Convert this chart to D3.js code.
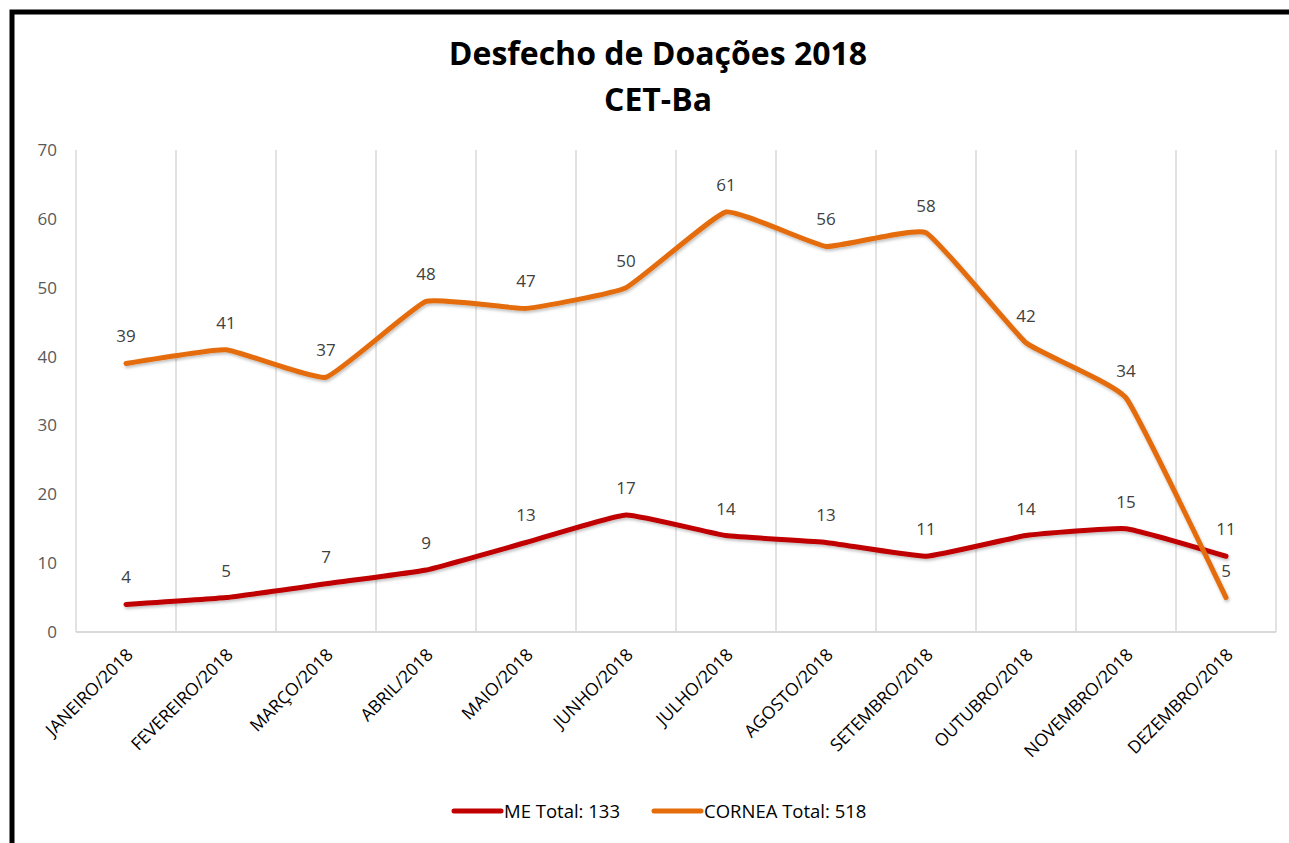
<!DOCTYPE html>
<html>
<head>
<meta charset="utf-8">
<script src="https://cdn.jsdelivr.net/npm/d3@7"></script>
<style>
  body { margin: 0; background: #fff; }
  svg { display: block; }
</style>
</head>
<body>
<div id="chart"></div>
<script>
var months = ['JANEIRO/2018', 'FEVEREIRO/2018', 'MARÇO/2018', 'ABRIL/2018', 'MAIO/2018', 'JUNHO/2018',
  'JULHO/2018', 'AGOSTO/2018', 'SETEMBRO/2018', 'OUTUBRO/2018', 'NOVEMBRO/2018', 'DEZEMBRO/2018'];
var meValues = [4, 5, 7, 9, 13, 17, 14, 13, 11, 14, 15, 11];
var corneaValues = [39, 41, 37, 48, 47, 50, 61, 56, 58, 42, 34, 5];
var seriesNames = ['ME Total: 133', 'CORNEA Total: 518'];
var yTicks = [0, 10, 20, 30, 40, 50, 60, 70];

var W = 1289, H = 843;
var font = '"Open Sans", Lato, sans-serif';

var svg = d3.select('#chart')
    .append('svg')
    .attr('width', W)
    .attr('height', H);

var defs = svg.append('defs');
var shadow = defs.append('filter').attr('id', 'shadow')
    .attr('x', '-5%').attr('y', '-20%').attr('width', '110%').attr('height', '140%');
shadow.append('feDropShadow')
    .attr('dx', 1).attr('dy', 2).attr('stdDeviation', 1.5)
    .attr('flood-color', '#000').attr('flood-opacity', 0.25);

// outer frame (runs off the right/bottom edge like the original)
svg.append('rect')
    .attr('x', 12).attr('y', 12)
    .attr('width', 1320).attr('height', 900)
    .style('fill', 'none')
    .style('stroke', '#000')
    .style('stroke-width', 5);

// title
svg.append('text')
    .attr('x', 658).attr('y', 65)
    .attr('text-anchor', 'middle')
    .style('font-family', font).style('font-weight', 'bold').style('font-size', '32px')
    .text('Desfecho de Doações 2018');
svg.append('text')
    .attr('x', 658).attr('y', 111)
    .attr('text-anchor', 'middle')
    .style('font-family', font).style('font-weight', 'bold').style('font-size', '32px')
    .text('CET-Ba');

var plotLeft = 76, plotRight = 1276, plotTop = 150, plotBottom = 632;

var x = d3.scaleBand().domain(months).range([plotLeft, plotRight]);
var y = d3.scaleLinear().domain([0, 70]).range([plotBottom, plotTop]);

// vertical gridlines at category boundaries
var bounds = months.map(function (m) { return x(m); }).concat([plotRight]);
svg.append('g').selectAll('line')
    .data(bounds)
    .enter().append('line')
    .attr('x1', function (d) { return d; })
    .attr('x2', function (d) { return d; })
    .attr('y1', plotTop).attr('y2', plotBottom)
    .style('stroke', '#d9d9d9')
    .style('stroke-width', 1.5);

// baseline
svg.append('line')
    .attr('x1', plotLeft).attr('x2', plotRight)
    .attr('y1', plotBottom).attr('y2', plotBottom)
    .style('stroke', '#d9d9d9')
    .style('stroke-width', 2);

// y axis labels
var yAxis = svg.append('g')
    .attr('transform', 'translate(' + (plotLeft - 19) + ',0)')
    .call(d3.axisLeft(y).tickValues(yTicks).tickSize(0).tickPadding(0));
yAxis.select('.domain').remove();
yAxis.selectAll('text')
    .style('font-family', font).style('font-size', '17px').style('fill', '#595959');

// x axis labels
var xAxis = svg.append('g')
    .attr('transform', 'translate(0,' + plotBottom + ')')
    .call(d3.axisBottom(x).tickSize(0).tickPadding(0));
xAxis.select('.domain').remove();
xAxis.selectAll('text')
    .attr('y', 0)
    .attr('dy', 0)
    .attr('text-anchor', 'end')
    .attr('transform', 'translate(8,24) rotate(-45)')
    .style('font-family', font).style('font-size', '17.5px').style('fill', '#000');

var series = [
    { name: seriesNames[0], values: meValues, color: '#c00000' },
    { name: seriesNames[1], values: corneaValues, color: '#e46c0a' }
];

var line = d3.line()
    .x(function (d, i) { return x(months[i]) + x.bandwidth() / 2; })
    .y(function (d) { return y(d); })
    .curve(d3.curveCardinal.tension(0.65));

series.forEach(function (s) {
    svg.append('path')
        .datum(s.values)
        .attr('d', line)
        .attr('filter', 'url(#shadow)')
        .style('fill', 'none')
        .style('stroke', s.color)
        .style('stroke-width', 5)
        .style('stroke-linecap', 'round')
        .style('stroke-linejoin', 'round');
});

// data labels
series.forEach(function (s) {
    svg.append('g').selectAll('text')
        .data(s.values)
        .enter().append('text')
        .attr('x', function (d, i) { return x(months[i]) + x.bandwidth() / 2; })
        .attr('y', function (d) { return y(d) - 21; })
        .attr('text-anchor', 'middle')
        .style('font-family', font).style('font-size', '17px').style('fill', '#404040')
        .text(function (d) { return d; });
});

// legend
var legendPos = [453, 653];
var legend = svg.append('g').selectAll('g')
    .data(series)
    .enter().append('g')
    .attr('transform', function (d, i) { return 'translate(' + legendPos[i] + ',811)'; });
legend.append('line')
    .attr('x1', 1).attr('x2', 48)
    .attr('y1', 0).attr('y2', 0)
    .style('stroke', function (d) { return d.color; })
    .style('stroke-width', 5)
    .style('stroke-linecap', 'round');
legend.append('text')
    .attr('x', 51).attr('y', 7)
    .style('font-family', font).style('font-size', '18.5px').style('fill', '#000')
    .text(function (d) { return d.name; });
</script>
</body>
</html>
